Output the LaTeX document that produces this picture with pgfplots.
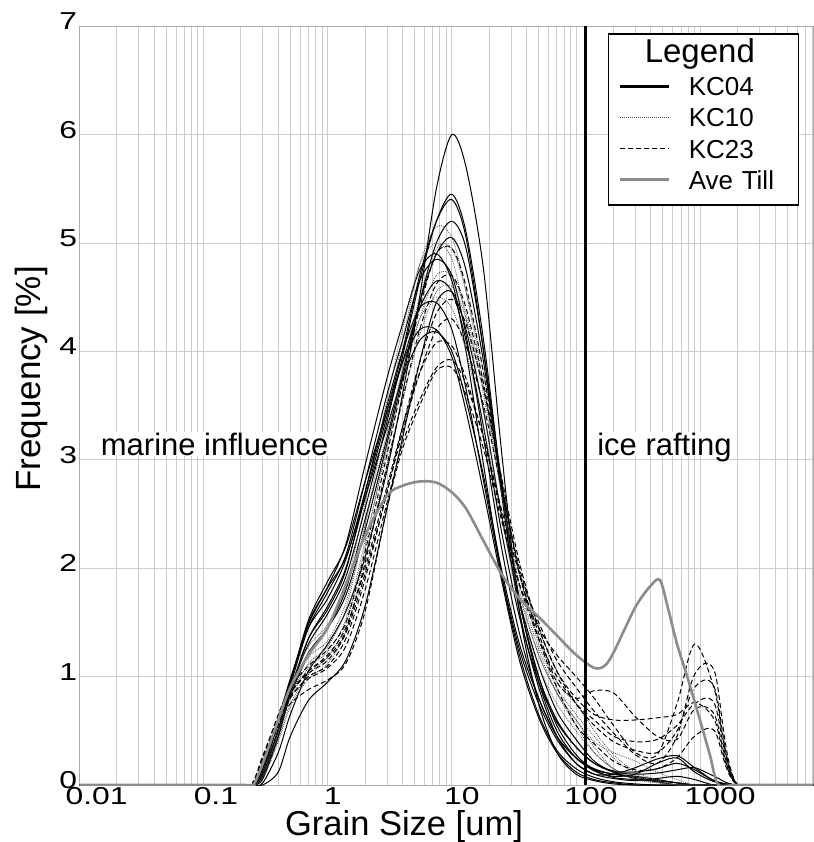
\documentclass[border=0pt]{standalone}
\usepackage{fontspec}
\setmainfont{Liberation Sans}
\usepackage{graphicx}
\usepackage{pgfplots}
\usepackage{pgfplotstable}
\pgfplotsset{compat=1.18}

% tick numbers: wide digits, first digit centred on the tick
\newsavebox\tlbox
\newcommand\sx[1]{\scalebox{1.3}[1]{#1}}
\newcommand\tl[1]{\sbox\tlbox{\sx{#1}}\hspace*{0.56\wd\tlbox}\usebox\tlbox}

% grain size [um] vs frequency [%], core KC04 (12 samples)
\pgfplotstableread{
x     s1   s2   s3   s4   s5   s6   s7   s8   s9   s10  s11  s12
0.01  0    0    0    0    0    0    0    0    0    0    0    0
0.2   0    0    0    0    0    0    0    0    0    0    0    0
0.25  0    0    0    0    0    0    0    0    0    0    0    0
0.3   0.02 0.08 0.1  0.06 0.15 0.12 0.1  0    0.15 0.12 0.06 0.1
0.4   0.3  0.5  0.6  0.45 0.62 0.58 0.5  0.12 0.6  0.58 0.45 0.52
0.5   0.65 0.88 0.98 0.85 0.95 0.92 0.85 0.45 0.95 0.95 0.82 0.88
0.7   1.05 1.3  1.45 1.22 1.5  1.45 1.35 0.78 1.52 1.48 1.2  1.35
1     1.3  1.58 1.72 1.45 1.83 1.78 1.65 0.95 1.88 1.82 1.45 1.62
1.4   1.6  1.92 2.08 1.75 2.22 2.12 2.0  1.15 2.2  2.1  1.8  1.98
2     2.1  2.55 2.7  2.35 2.95 2.8  2.65 1.65 2.8  2.65 2.45 2.7
3     2.9  3.35 3.45 3.15 3.75 3.6  3.4  2.55 3.45 3.3  3.2  3.5
4     3.6  3.95 4.0  3.75 4.25 4.1  3.9  3.2  3.9  3.75 3.8  4.0
5.5   4.5  4.65 4.7  4.45 4.75 4.65 4.4  3.9  4.2  4.1  4.45 4.4
7.5   5.5  5.2  5.2  5.0  4.9  4.85 4.65 4.45 4.2  4.18 4.9  4.45
10    6.0  5.45 5.4  5.2  4.65 4.7  4.55 4.55 3.95 4.0  5.05 4.2
13    5.7  5.1  5.05 4.95 4.0  4.15 4.1  4.2  3.45 3.55 4.75 3.65
18    4.75 4.1  4.0  4.0  2.95 3.2  3.3  3.45 2.7  2.85 3.9  2.8
25    3.1  2.8  2.7  2.8  1.95 2.2  2.35 2.5  1.9  2.0  2.75 1.95
35    1.6  1.7  1.6  1.7  1.2  1.4  1.55 1.7  1.15 1.3  1.7  1.25
50    0.75 0.95 0.9  1.0  0.65 0.8  0.95 1.1  0.62 0.8  1.0  0.75
70    0.3  0.5  0.45 0.6  0.32 0.45 0.58 0.68 0.3  0.45 0.55 0.42
100   0.1  0.25 0.2  0.35 0.15 0.25 0.35 0.42 0.12 0.25 0.28 0.2
140   0.04 0.14 0.1  0.2  0.07 0.15 0.2  0.22 0.05 0.13 0.14 0.1
200   0.01 0.1  0.1  0.12 0.03 0.1  0.13 0.12 0.02 0.08 0.07 0.06
300   0    0.07 0.16 0.1  0.01 0.08 0.12 0.06 0    0.1  0.05 0.04
450   0    0.04 0.24 0.11 0    0.05 0.15 0.03 0    0.2  0.04 0.06
650   0    0.02 0.27 0.14 0    0.02 0.2  0    0    0.25 0.02 0.08
900   0    0    0.16 0.16 0    0    0.14 0    0    0.12 0    0.05
1300  0    0    0.04 0.08 0    0    0.04 0    0    0.03 0    0
2000  0    0    0    0    0    0    0    0    0    0    0    0
8100  0    0    0    0    0    0    0    0    0    0    0    0
}\kcfour

% core KC10 (6 samples)
\pgfplotstableread{
x     t1   t2   t3   t4   t5   t6
0.01  0    0    0    0    0    0
0.2   0    0    0    0    0    0
0.25  0    0    0    0    0    0
0.3   0.08 0.06 0.08 0.05 0.1  0.12
0.4   0.5  0.42 0.48 0.4  0.55 0.6
0.5   0.82 0.75 0.8  0.72 0.88 0.92
0.7   1.12 1.02 1.08 0.98 1.18 1.28
1     1.28 1.18 1.23 1.12 1.33 1.48
1.4   1.62 1.48 1.53 1.42 1.68 1.83
2     2.4  2.2  2.25 2.1  2.4  2.6
3     3.4  3.15 3.1  2.95 3.25 3.55
4     4.1  3.85 3.7  3.55 3.8  4.2
5.5   4.8  4.5  4.3  4.15 4.3  4.8
7.5   5.15 4.95 4.7  4.55 4.5  5.0
10    5.05 4.95 4.7  4.6  4.4  4.85
13    4.55 4.55 4.35 4.3  4.0  4.3
18    3.7  3.8  3.65 3.6  3.3  3.45
25    2.7  2.85 2.8  2.7  2.5  2.5
35    1.8  1.95 1.95 1.85 1.75 1.65
50    1.2  1.3  1.35 1.25 1.2  1.1
70    0.85 0.9  0.95 0.85 0.85 0.75
100   0.6  0.65 0.75 0.6  0.55 0.5
140   0.35 0.45 0.5  0.4  0.3  0.3
200   0.15 0.25 0.28 0.3  0.15 0.15
300   0.05 0.1  0.12 0.22 0.08 0.06
450   0.02 0.04 0.05 0.12 0.03 0.02
650   0    0    0    0.05 0    0
900   0    0    0    0    0    0
1300  0    0    0    0    0    0
2000  0    0    0    0    0    0
8100  0    0    0    0    0    0
}\kcten

% core KC23 (7 samples)
\pgfplotstableread{
x     d1   d2   d3   d4   d5   d6   d7
0.01  0    0    0    0    0    0    0
0.2   0    0    0    0    0    0    0
0.25  0.02 0.03 0.02 0.02 0.01 0.02 0.02
0.3   0.25 0.27 0.24 0.22 0.2  0.25 0.22
0.4   0.58 0.62 0.6  0.6  0.55 0.65 0.6
0.5   0.75 0.82 0.85 0.85 0.8  0.9  0.85
0.7   0.88 0.98 1.03 1.05 1.0  1.1  1.05
1     0.97 1.08 1.15 1.2  1.1  1.25 1.18
1.4   1.12 1.28 1.4  1.45 1.35 1.5  1.42
2     1.6  1.8  1.95 2.0  1.9  2.15 2.05
3     2.55 2.6  2.7  2.75 2.7  3.05 2.95
4     3.1  3.15 3.25 3.3  3.3  3.7  3.55
5.5   3.5  3.55 3.8  3.8  3.9  4.4  4.2
7.5   3.82 3.85 4.2  4.08 4.35 4.9  4.62
10    3.85 3.92 4.3  4.05 4.48 4.95 4.7
13    3.6  3.7  4.05 3.75 4.25 4.6  4.4
18    3.1  3.2  3.5  3.2  3.65 3.8  3.7
25    2.45 2.55 2.75 2.5  2.85 2.8  2.8
35    1.85 1.95 2.0  1.85 2.05 1.95 1.95
50    1.45 1.5  1.45 1.35 1.45 1.4  1.35
70    1.2  1.15 1.05 1.0  1.05 0.95 0.9
100   1.0  0.9  0.75 0.75 0.8  0.8  0.55
140   0.8  0.68 0.55 0.6  0.65 0.87 0.38
200   0.55 0.48 0.4  0.45 0.6  0.85 0.22
300   0.3  0.28 0.32 0.4  0.6  0.63 0.14
450   0.28 0.2  0.3  0.42 0.62 0.45 0.15
650   0.75 0.45 0.5  0.55 0.65 0.42 0.25
900   1.3  1.02 0.9  0.75 0.76 0.7  0.45
1300  0.88 1.05 0.9  0.75 0.6  0.65 0.5
2000  0    0    0    0    0    0    0
8100  0    0    0    0    0    0    0
}\kctwentythree

% average till
\pgfplotstableread{
x     y
0.01  0
0.2   0
0.25  0
0.3   0.2
0.4   0.6
0.5   0.9
0.7   1.2
1     1.45
1.4   1.85
2     2.3
3     2.67
4     2.76
5.5   2.8
7.5   2.79
10    2.7
13    2.55
18    2.25
25    1.95
35    1.72
50    1.55
70    1.38
100   1.2
140   1.08
170   1.1
200   1.22
300   1.64
400   1.84
474   1.89
550   1.63
650   1.3
800   0.97
1000  0.59
1200  0.27
1400  0
2000  0
8100  0
}\avetill

\tikzset{
  kcfour/.style={black, line width=1pt, smooth},
  kcten/.style={black!75, line width=0.8pt, dash pattern=on 0.8pt off 1.2pt, smooth},
  kctwentythree/.style={black, line width=1pt, dash pattern=on 5pt off 3pt, smooth},
  till/.style={black!45, line width=2.6pt, smooth},
}

\begin{document}
\begin{tikzpicture}
\begin{axis}[
  at={(0pt,0pt)}, anchor=south west,
  scale only axis, width=733.8pt, height=758.8pt,
  xmode=log, xmin=0.01, xmax=8100, ymin=0, ymax=7,
  xtick={0.01,0.1,1,10,100,1000},
  xticklabels={\tl{0.01},\tl{0.1},\tl{1},\tl{10},\tl{100},\tl{1000}},
  minor xtick={0.02,0.03,0.04,0.05,0.06,0.07,0.08,0.09,
               0.2,0.3,0.4,0.5,0.6,0.7,0.8,0.9,
               2,3,4,5,6,7,8,9,
               20,30,40,50,60,70,80,90,
               200,300,400,500,600,700,800,900,
               2000,3000,4000,5000,6000,7000,8000},
  ytick={0,1,2,3,4,5,6,7},
  yticklabels={\sx{0},\sx{1},\sx{2},\sx{3},\sx{4},\sx{5},\sx{6},\sx{7}},
  xmajorgrids, xminorgrids, ymajorgrids,
  grid style={draw=gray!40, line width=0.8pt},
  axis line style={draw=gray!65, line width=0.8pt},
  major tick length=0pt, minor tick length=0pt,
  tick label style={font=\fontsize{24.5}{24.5}\selectfont},
  xticklabel style={anchor=north, inner sep=0pt, yshift=-2pt},
  yticklabel style={anchor=east, inner sep=0pt, xshift=-2pt, yshift=5pt},
  xlabel={Grain Size [um]},
  ylabel={Frequency [\%]},
  xlabel style={font=\fontsize{34.5}{34.5}\selectfont, inner sep=0pt,
                text height=23pt, text depth=6pt,
                at={(axis description cs:0.4425,-0.066)}, anchor=base},
  ylabel style={font=\fontsize{35}{35}\selectfont,
                at={(axis description cs:-0.0526,0.535)}, anchor=base},
  legend cell align=left,
  legend style={at={(0.7206,0.9904)}, anchor=north west,
                draw=black, line width=1.4pt, fill=white,
                inner xsep=10pt, inner ysep=4.2pt,
                row sep=0pt, column sep=18pt,
                nodes={inner sep=0pt, text height=19.6pt, text depth=11.5pt,
                       text width=100pt, font=\fontsize{26}{26}\selectfont}},
  legend image code/.code={\draw[#1] (0pt,5.25pt) -- (49pt,5.25pt);},
]

\addlegendimage{empty legend}
\addlegendentry[font=\fontsize{33}{33}\selectfont, text height=24.2pt, text depth=13.7pt]{\hspace*{-44pt}Legend}
\addlegendimage{black, line width=2.6pt}
\addlegendentry{KC04}
\addlegendimage{black!70, line width=1pt, dash pattern=on 1pt off 1pt}
\addlegendentry{KC10}
\addlegendimage{black, line width=1.4pt, dash pattern=on 5pt off 3pt}
\addlegendentry{KC23}
\addlegendimage{black!45, line width=3pt}
\addlegendentry{Ave Till}

\pgfplotsinvokeforeach{1,...,12}{
  \addplot[kcfour, forget plot] table[x=x, y=s#1] {\kcfour};
}
\pgfplotsinvokeforeach{1,...,6}{
  \addplot[kcten, forget plot] table[x=x, y=t#1] {\kcten};
}
\pgfplotsinvokeforeach{1,...,7}{
  \addplot[kctwentythree, forget plot] table[x=x, y=d#1] {\kctwentythree};
}
\addplot[till, forget plot] table[x=x, y=y] {\avetill};

% boundary between the fine fraction and ice-rafted debris
\addplot[black, line width=3pt, forget plot] coordinates {(118,0) (118,7)};

\node[anchor=base west, inner sep=1pt, fill=white, text depth=0pt,
      font=\fontsize{31}{31}\selectfont] at (axis cs:0.0146,3.044) {marine influence};
\node[anchor=base west, inner sep=1pt, fill=white, text depth=0pt,
      font=\fontsize{31}{31}\selectfont] at (axis cs:145,3.044) {ice rafting};
\end{axis}
\pgfresetboundingbox
\path[use as bounding box] (-79.3pt,-57pt) rectangle (733.8pt,785pt);
\end{tikzpicture}
\end{document}
